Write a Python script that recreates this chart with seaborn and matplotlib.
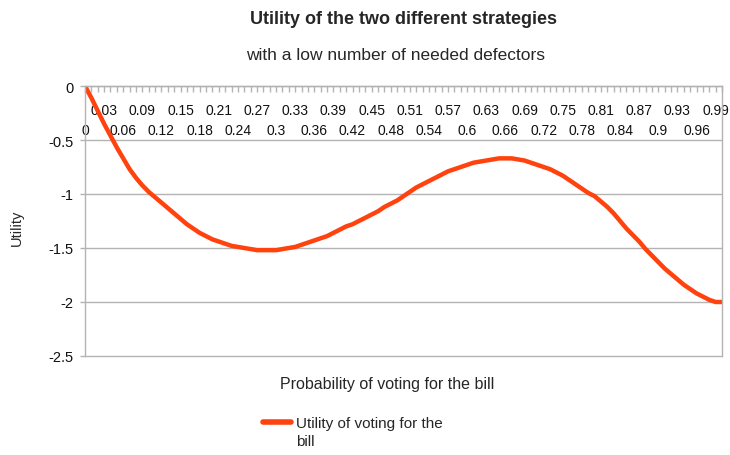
import numpy as np
import matplotlib
matplotlib.use('Agg')
import matplotlib.pyplot as plt
import seaborn as sns

# x categories: probability of voting for the bill, 0.00 .. 1.00
prob = np.round(np.arange(101) * 0.01, 2)

# utility, one value per category
utility = [
    0.00, -0.11, -0.23, -0.35, -0.46, -0.57, -0.67, -0.77, -0.85, -0.92,
    -0.98, -1.03, -1.08, -1.13, -1.18, -1.23, -1.28, -1.32, -1.36, -1.39,
    -1.42, -1.44, -1.46, -1.48, -1.49, -1.50, -1.51, -1.52, -1.52, -1.52,
    -1.52, -1.51, -1.50, -1.49, -1.47, -1.45, -1.43, -1.41, -1.39, -1.36,
    -1.33, -1.30, -1.28, -1.25, -1.22, -1.19, -1.16, -1.12, -1.09, -1.06,
    -1.02, -0.98, -0.94, -0.91, -0.88, -0.85, -0.82, -0.79, -0.77, -0.75,
    -0.73, -0.71, -0.70, -0.69, -0.68, -0.67, -0.67, -0.67, -0.68, -0.69,
    -0.71, -0.73, -0.75, -0.77, -0.80, -0.83, -0.87, -0.91, -0.95, -0.99,
    -1.02, -1.07, -1.12, -1.18, -1.25, -1.32, -1.38, -1.44, -1.51, -1.57,
    -1.63, -1.69, -1.74, -1.79, -1.84, -1.88, -1.92, -1.95, -1.98, -2.00,
    -2.00,
]

# every third category gets a label, alternating between two rows
x_labels = ["0", "0.03", "0.06", "0.09", "0.12", "0.15", "0.18", "0.21", "0.24",
            "0.27", "0.3", "0.33", "0.36", "0.39", "0.42", "0.45", "0.48", "0.51",
            "0.54", "0.57", "0.6", "0.63", "0.66", "0.69", "0.72", "0.75", "0.78",
            "0.81", "0.84", "0.87", "0.9", "0.93", "0.96", "0.99"]
y_ticks = [0, -0.5, -1, -1.5, -2, -2.5]
y_labels = ["0", "-0.5", "-1", "-1.5", "-2", "-2.5"]

sns.set_style('white')
plt.rcParams['font.family'] = ['Liberation Sans', 'DejaVu Sans']
plt.rcParams['axes.unicode_minus'] = False

W, H = 730, 456
GREY = '#b3b3b3'
fig = plt.figure(figsize=(W / 100, H / 100), dpi=100)
ax = fig.add_axes([85 / W, 1 - 357 / H, (722 - 85) / W, (357 - 87) / H])

sns.lineplot(x=prob, y=utility, color='#ff420e', linewidth=3.2, ax=ax,
             label='Utility of voting for the\nbill')

ax.set_xlim(0, 1.0)
ax.set_ylim(-2.5, 0)

# category axis sits at utility 0 (top of the plot)
ax.spines['bottom'].set_position(('data', 0))
ax.spines['top'].set_visible(False)
for s in ['bottom', 'left', 'right']:
    ax.spines[s].set_color(GREY)
    ax.spines[s].set_linewidth(1)

lab_pos = prob[::3]
ax.set_xticks(lab_pos[0::2], x_labels[0::2])               # lower row
ax.set_xticks(lab_pos[1::2], x_labels[1::2], minor=True)   # upper row
ax.tick_params(axis='x', which='major', length=0, pad=26.5,
               labelsize=10, labelcolor='#111111')
ax.tick_params(axis='x', which='minor', length=0, pad=12.5,
               labelsize=10, labelcolor='#111111')

# small tick marks at every category, hanging from the axis line
secax = ax.secondary_xaxis('top')
secax.set_xticks(prob)
secax.tick_params(direction='in', length=4, width=1, color=GREY,
                  labeltop=False, top=True)
secax.spines['top'].set_visible(False)

ax.set_yticks(y_ticks)
ax.set_yticklabels(y_labels)
ax.tick_params(axis='y', left=True, direction='out', length=3.5, width=1,
               color=GREY, pad=5, labelsize=10.5, labelcolor='#111111')

ax.yaxis.grid(True, color=GREY, linewidth=1)
ax.xaxis.grid(False)
for g in ax.get_ygridlines():
    g.set_clip_on(False)

ax.set_xlabel('')
ax.set_ylabel('Utility', fontsize=10.5)
ax.yaxis.set_label_coords((24 - 85) / 637, 1 - (228 - 87) / 270)

fig.text(387 / W, 1 - 385 / H, 'Probability of voting for the bill',
         ha='center', va='center', fontsize=11.5)
fig.text(404 / W, 1 - 20 / H, 'Utility of the two different strategies',
         ha='center', va='center', fontsize=13, fontweight='bold')
fig.text(396 / W, 1 - 55 / H, 'with a low number of needed defectors',
         ha='center', va='center', fontsize=12.5)

leg = ax.legend(loc='upper left', bbox_to_anchor=(263 / W, 1 - 417 / H),
                bbox_transform=fig.transFigure, frameon=False, fontsize=11,
                handlelength=1.8, handletextpad=0.35, borderpad=0, borderaxespad=0)
leg.get_texts()[0].set_linespacing(1.4)
h = leg.legend_handles[0]
h.set_linewidth(4)
h.set_ydata(np.asarray(h.get_ydata()) + 7.5)

fig.savefig('out.png', dpi=100)
